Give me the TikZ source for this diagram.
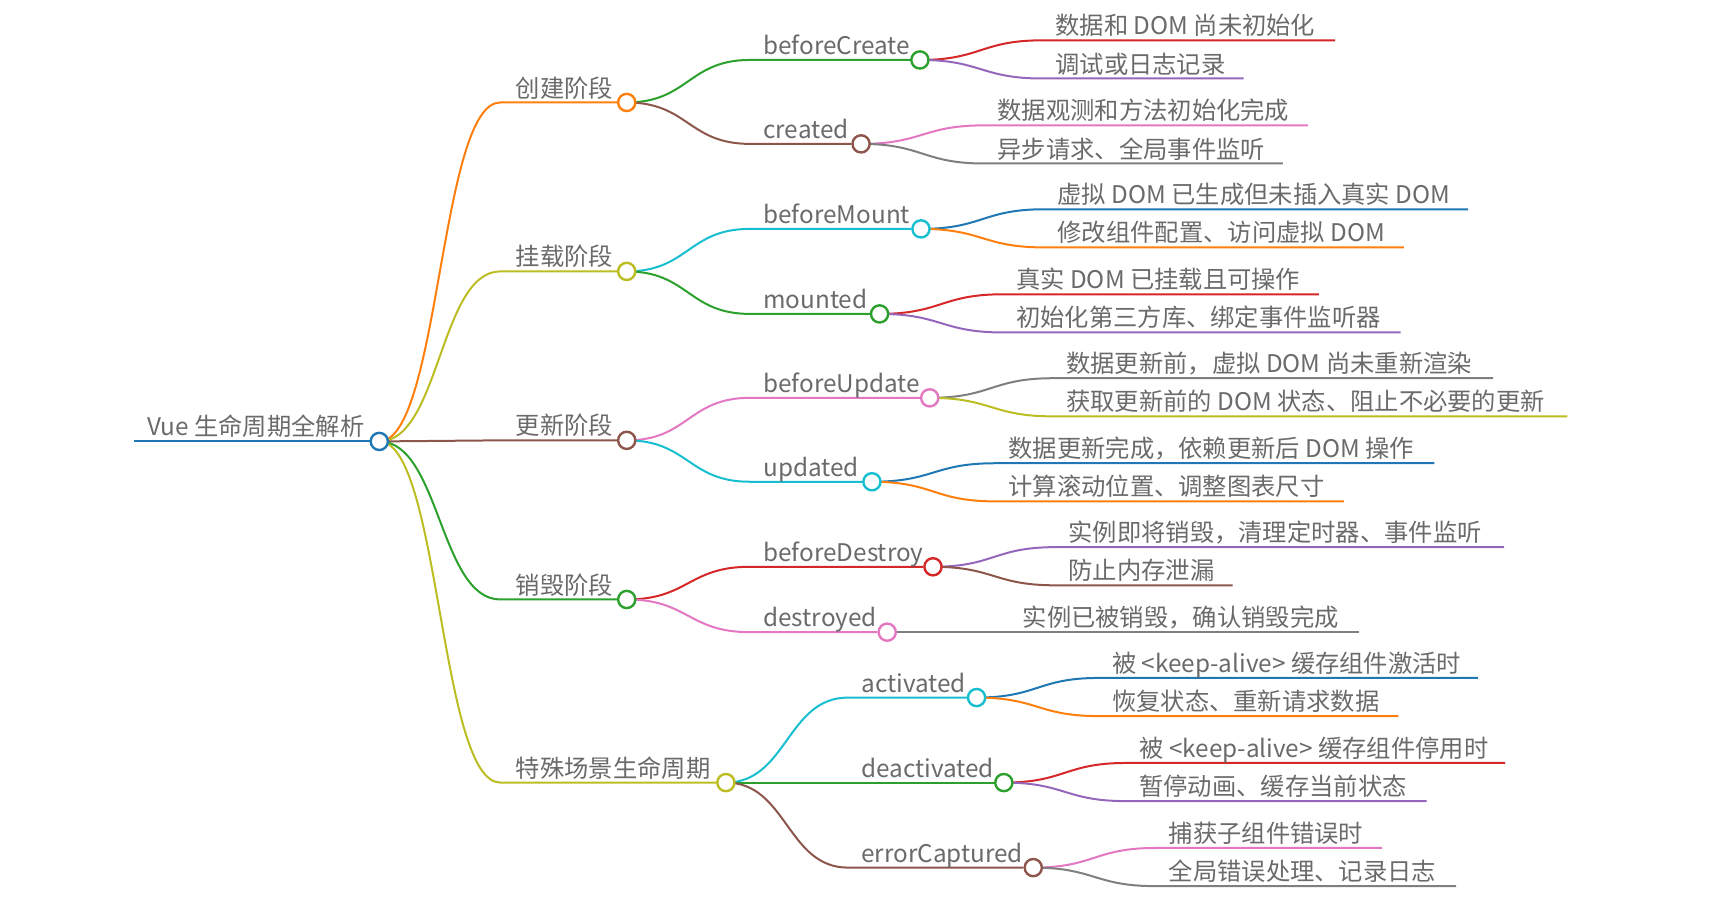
\documentclass[tikz,border=0pt]{standalone}
\usepackage{fontspec}
\setmainfont{Noto Sans CJK SC}
\usetikzlibrary{calc}
\definecolor{mblue}{HTML}{1F77B4}
\definecolor{morange}{HTML}{FF7F0E}
\definecolor{mgreen}{HTML}{2CA02C}
\definecolor{mred}{HTML}{D62728}
\definecolor{mpurple}{HTML}{9467BD}
\definecolor{mbrown}{HTML}{8C564B}
\definecolor{mpink}{HTML}{E377C2}
\definecolor{mgray}{HTML}{7F7F7F}
\definecolor{molive}{HTML}{BCBD22}
\definecolor{mcyan}{HTML}{17BECF}
\definecolor{txt}{HTML}{6A6A6A}
\pgfdeclarelayer{bg}
\pgfsetlayers{bg,main}
\tikzset{
  bub/.style={circle,draw=#1,fill=white,line width=1.2pt,minimum size=8.6pt,inner sep=0pt},
  lbl/.style={font=\fontsize{12.15}{14}\selectfont,text=txt,inner sep=0pt,anchor=base west},
  lnk/.style={draw=#1,line width=1pt},
}
\newcommand\branch[4]{%
  \draw[lnk=#4] let \p1=(#1), \p2=(#2) in (#1.center) .. controls ({(\x1+\x2)/2},\y1) and ({(\x1+\x2)/2},\y2) .. (#2) -- (#3);}

\begin{document}
\begin{tikzpicture}[x=0.545pt,y=-0.545pt]
\useasboundingbox (0,0) rectangle (1568,829);
\coordinate (rootS) at (123,405);
\node[bub=mblue] (root) at (348,405) {};
\node[lbl] (rootT) at (135,400) {Vue 生命周期全解析};

\coordinate (cjS) at (459,94);
\node[bub=morange] (cj) at (575,94) {};
\node[lbl] (cjT) at (473,89) {创建阶段};
\coordinate (gzS) at (459,249);
\node[bub=molive] (gz) at (575,249) {};
\node[lbl] (gzT) at (473,244) {挂载阶段};
\coordinate (gxS) at (459,404);
\node[bub=mbrown] (gx) at (575,404) {};
\node[lbl] (gxT) at (473,399) {更新阶段};
\coordinate (xhS) at (459,550);
\node[bub=mgreen] (xh) at (575,550) {};
\node[lbl] (xhT) at (473,545) {销毁阶段};
\coordinate (tsS) at (459,718);
\node[bub=molive] (ts) at (666,718) {};
\node[lbl] (tsT) at (473,713) {特殊场景生命周期};

\coordinate (bcrS) at (688,55);
\node[bub=mgreen] (bcr) at (844,55) {};
\node[lbl] (bcrT) at (700,50) {beforeCreate};
\coordinate (crdS) at (688,132);
\node[bub=mbrown] (crd) at (790,132) {};
\node[lbl] (crdT) at (700,127) {created};
\coordinate (bmtS) at (688,210);
\node[bub=mcyan] (bmt) at (845,210) {};
\node[lbl] (bmtT) at (700,205) {beforeMount};
\coordinate (mtdS) at (688,288);
\node[bub=mgreen] (mtd) at (807,288) {};
\node[lbl] (mtdT) at (700,283) {mounted};
\coordinate (bupS) at (688,365);
\node[bub=mpink] (bup) at (853,365) {};
\node[lbl] (bupT) at (700,360) {beforeUpdate};
\coordinate (updS) at (688,442);
\node[bub=mcyan] (upd) at (800,442) {};
\node[lbl] (updT) at (700,437) {updated};
\coordinate (bdsS) at (688,520);
\node[bub=mred] (bds) at (856,520) {};
\node[lbl] (bdsT) at (700,515) {beforeDestroy};
\coordinate (dsdS) at (688,580);
\node[bub=mpink] (dsd) at (814,580) {};
\node[lbl] (dsdT) at (700,575) {destroyed};
\coordinate (actS) at (778,640);
\node[bub=mcyan] (act) at (896,640) {};
\node[lbl] (actT) at (790,635) {activated};
\coordinate (dacS) at (778,718);
\node[bub=mgreen] (dac) at (921,718) {};
\node[lbl] (dacT) at (790,713) {deactivated};
\coordinate (errS) at (778,796);
\node[bub=mbrown] (err) at (948,796) {};
\node[lbl] (errT) at (790,791) {errorCaptured};

\coordinate (a1S) at (956,37); \coordinate (a1E) at (1225,37);
\node[lbl] (a1) at (968,32) {数据和 DOM 尚未初始化};
\coordinate (a2S) at (956,72); \coordinate (a2E) at (1141,72);
\node[lbl] (a2) at (968,67) {调试或日志记录};
\coordinate (b1S) at (903,115); \coordinate (b1E) at (1200,115);
\node[lbl] (b1) at (915,110) {数据观测和方法初始化完成};
\coordinate (b2S) at (903,150); \coordinate (b2E) at (1177,150);
\node[lbl] (b2) at (915,145) {异步请求、全局事件监听};
\coordinate (c1S) at (958,192); \coordinate (c1E) at (1347,192);
\node[lbl] (c1) at (970,187) {虚拟 DOM 已生成但未插入真实 DOM};
\coordinate (c2S) at (958,227); \coordinate (c2E) at (1288,227);
\node[lbl] (c2) at (970,222) {修改组件配置、访问虚拟 DOM};
\coordinate (d1S) at (920,270); \coordinate (d1E) at (1210,270);
\node[lbl] (d1) at (932,265) {真实 DOM 已挂载且可操作};
\coordinate (d2S) at (920,305); \coordinate (d2E) at (1285,305);
\node[lbl] (d2) at (932,300) {初始化第三方库、绑定事件监听器};
\coordinate (e1S) at (966,347); \coordinate (e1E) at (1370,347);
\node[lbl] (e1) at (978,342) {数据更新前，虚拟 DOM 尚未重新渲染};
\coordinate (e2S) at (966,382); \coordinate (e2E) at (1438,382);
\node[lbl] (e2) at (978,377) {获取更新前的 DOM 状态、阻止不必要的更新};
\coordinate (f1S) at (913,425); \coordinate (f1E) at (1316,425);
\node[lbl] (f1) at (925,420) {数据更新完成，依赖更新后 DOM 操作};
\coordinate (f2S) at (913,460); \coordinate (f2E) at (1233,460);
\node[lbl] (f2) at (925,455) {计算滚动位置、调整图表尺寸};
\coordinate (g1S) at (968,502); \coordinate (g1E) at (1380,502);
\node[lbl] (g1) at (980,497) {实例即将销毁，清理定时器、事件监听};
\coordinate (g2S) at (968,537); \coordinate (g2E) at (1131,537);
\node[lbl] (g2) at (980,532) {防止内存泄漏};
\coordinate (h1S) at (926,580); \coordinate (h1E) at (1247,580);
\node[lbl] (h1) at (938,575) {实例已被销毁，确认销毁完成};
\coordinate (i1S) at (1008,622); \coordinate (i1E) at (1356,622);
\node[lbl] (i1) at (1020,617) {被 <keep-alive> 缓存组件激活时};
\coordinate (i2S) at (1008,657); \coordinate (i2E) at (1283,657);
\node[lbl] (i2) at (1020,652) {恢复状态、重新请求数据};
\coordinate (j1S) at (1033,700); \coordinate (j1E) at (1381,700);
\node[lbl] (j1) at (1045,695) {被 <keep-alive> 缓存组件停用时};
\coordinate (j2S) at (1033,735); \coordinate (j2E) at (1309,735);
\node[lbl] (j2) at (1045,730) {暂停动画、缓存当前状态};
\coordinate (k1S) at (1060,778); \coordinate (k1E) at (1268,778);
\node[lbl] (k1) at (1072,773) {捕获子组件错误时};
\coordinate (k2S) at (1060,813); \coordinate (k2E) at (1336,813);
\node[lbl] (k2) at (1072,808) {全局错误处理、记录日志};

\begin{pgfonlayer}{bg}
\draw[lnk=mblue] (rootS) -- (root);
\branch{root}{cjS}{cj}{morange}
\branch{root}{gzS}{gz}{molive}
\branch{root}{gxS}{gx}{mbrown}
\branch{root}{xhS}{xh}{mgreen}
\branch{root}{tsS}{ts}{molive}
\branch{cj}{bcrS}{bcr}{mgreen}
\branch{cj}{crdS}{crd}{mbrown}
\branch{gz}{bmtS}{bmt}{mcyan}
\branch{gz}{mtdS}{mtd}{mgreen}
\branch{gx}{bupS}{bup}{mpink}
\branch{gx}{updS}{upd}{mcyan}
\branch{xh}{bdsS}{bds}{mred}
\branch{xh}{dsdS}{dsd}{mpink}
\branch{ts}{actS}{act}{mcyan}
\branch{ts}{dacS}{dac}{mgreen}
\branch{ts}{errS}{err}{mbrown}
\branch{bcr}{a1S}{a1E}{mred}
\branch{bcr}{a2S}{a2E}{mpurple}
\branch{crd}{b1S}{b1E}{mpink}
\branch{crd}{b2S}{b2E}{mgray}
\branch{bmt}{c1S}{c1E}{mblue}
\branch{bmt}{c2S}{c2E}{morange}
\branch{mtd}{d1S}{d1E}{mred}
\branch{mtd}{d2S}{d2E}{mpurple}
\branch{bup}{e1S}{e1E}{mgray}
\branch{bup}{e2S}{e2E}{molive}
\branch{upd}{f1S}{f1E}{mblue}
\branch{upd}{f2S}{f2E}{morange}
\branch{bds}{g1S}{g1E}{mpurple}
\branch{bds}{g2S}{g2E}{mbrown}
\branch{dsd}{h1S}{h1E}{mgray}
\branch{act}{i1S}{i1E}{mblue}
\branch{act}{i2S}{i2E}{morange}
\branch{dac}{j1S}{j1E}{mred}
\branch{dac}{j2S}{j2E}{mpurple}
\branch{err}{k1S}{k1E}{mpink}
\branch{err}{k2S}{k2E}{mgray}
\end{pgfonlayer}
\end{tikzpicture}
\end{document}
